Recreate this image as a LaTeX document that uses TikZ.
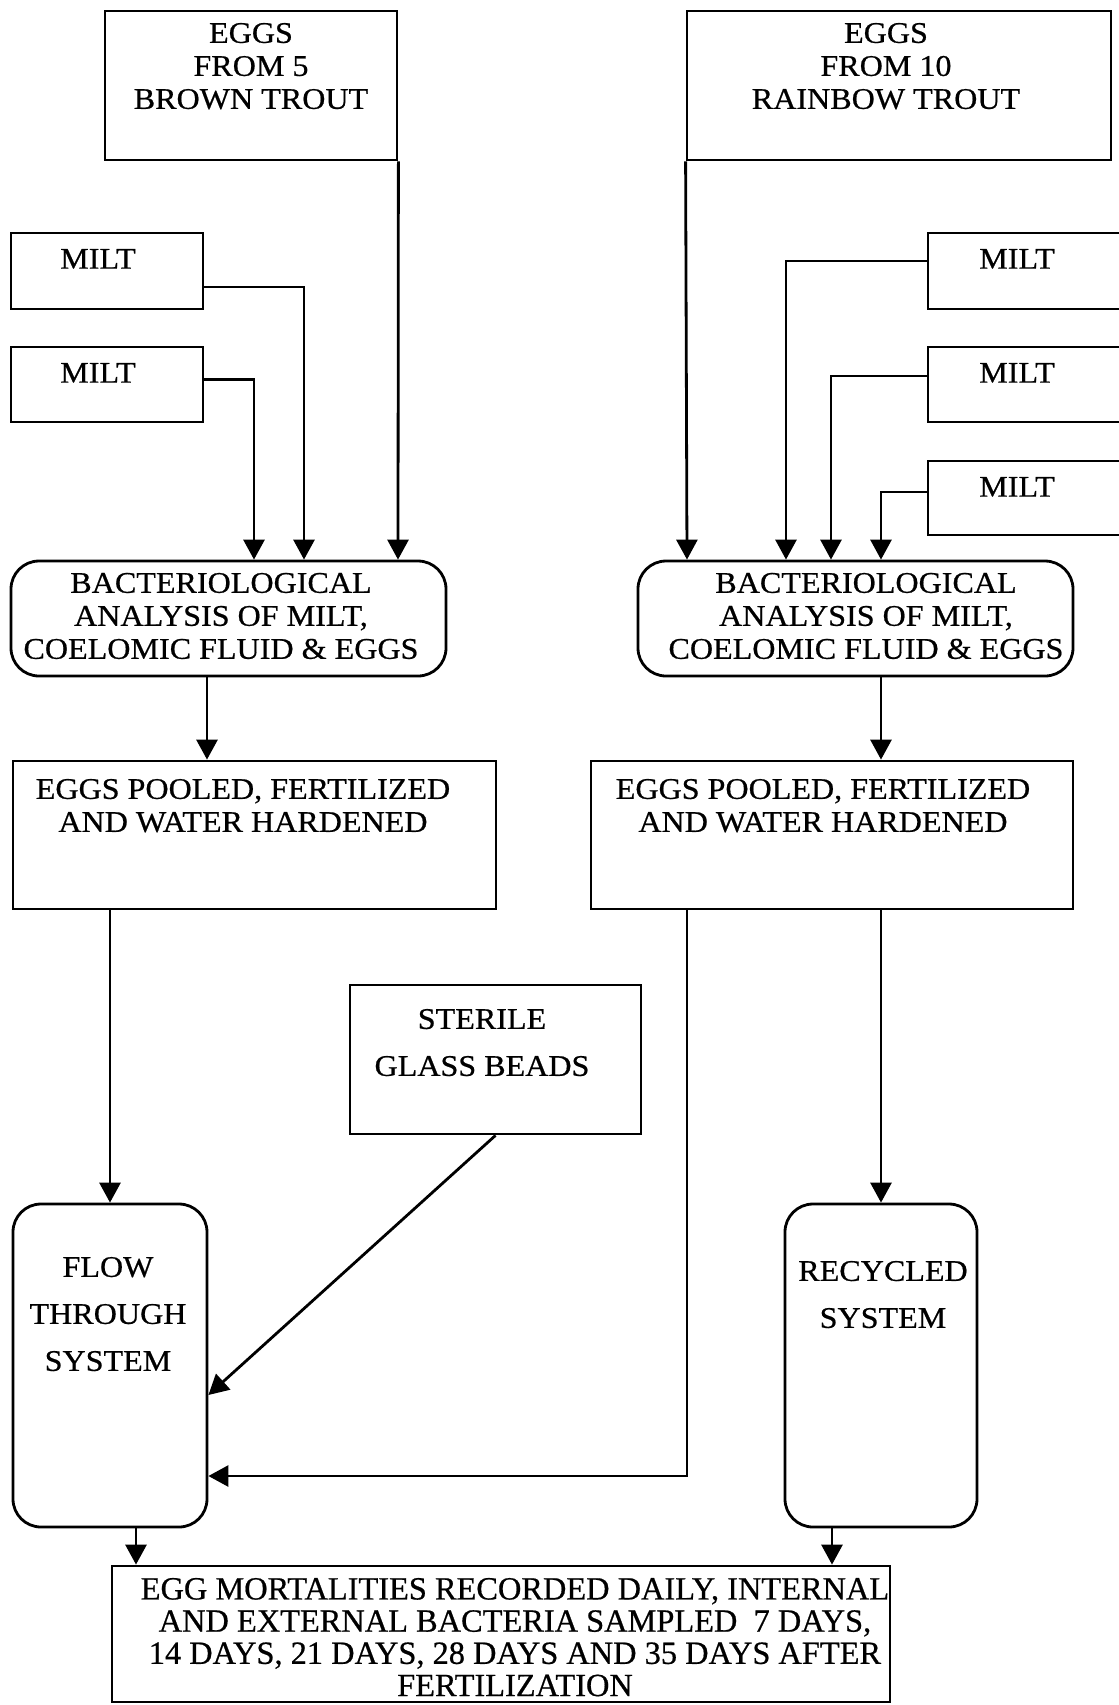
\documentclass[tikz,border=0pt]{standalone}
\usepackage{fontspec}
\setmainfont{Liberation Serif}[FakeStretch=1.07, FakeBold=0.6]
\newfontfamily\narrowfont{Liberation Serif}[FakeBold=0.6]
\usetikzlibrary{arrows.meta, positioning, calc}

\begin{document}
\begin{tikzpicture}[x=0.5pt, y=-0.5pt,
      >=Triangle, line width=1.4pt,
      box/.style={draw, inner sep=0pt},
      rbox/.style={box, rounded corners=14pt},
      txt/.style={align=center, inner sep=0pt, font=\fontsize{15}{16.5}\selectfont},
      wtxt/.style={txt, font=\fontsize{15}{23.5}\selectfont},
      ntxt/.style={txt, font=\narrowfont\fontsize{16.2}{16.1}\selectfont},
      arr/.style={-{Triangle[length=10pt, width=10.5pt]}}]
    \useasboundingbox (0,0) rectangle (1119,1705);
    % sources
    \node[box, minimum width=146pt, minimum height=74.5pt] (brown) at (251,85.5) {};
    \node[box, minimum width=212pt, minimum height=74.5pt] (rainbow) at (899,85.5) {};
    \node[box, minimum width=96pt, minimum height=38pt] (miltA) at (107,271) {};
    \node[box, minimum width=96pt, minimum height=37.5pt] (miltB) at (107,384.5) {};
    \node[box, minimum width=100pt, minimum height=38pt] (miltC) at (1028,271) {};
    \node[box, minimum width=100pt, minimum height=37.5pt] (miltD) at (1028,384.5) {};
    \node[box, minimum width=100pt, minimum height=37pt] (miltE) at (1028,498) {};
    % analysis
    \node[rbox, minimum width=217.5pt, minimum height=57.5pt] (bactL) at (228.5,618.5) {};
    \node[rbox, minimum width=217.5pt, minimum height=57.5pt] (bactR) at (855.5,618.5) {};
    % pooling
    \node[box, minimum width=241.5pt, minimum height=74pt] (poolL) at (254.5,835) {};
    \node[box, minimum width=241pt, minimum height=74pt] (poolR) at (832,835) {};
    \node[box, minimum width=145.5pt, minimum height=74.5pt] (beads) at (495.5,1059.5) {};
    % systems
    \node[rbox, minimum width=97pt, minimum height=161.5pt] (flow) at (110,1365.5) {};
    \node[rbox, minimum width=96pt, minimum height=161.5pt] (recyc) at (881,1365.5) {};
    \node[box, minimum width=389pt, minimum height=68pt] (final) at (501,1634) {};

    % texts
    \node[txt, anchor=north] (brownT) at ($(brown.north)+(0,12)$) {EGGS\\FROM 5\\BROWN TROUT};
    \node[txt, anchor=north] (rainT) at ($(rainbow.north)+(-13,12)$) {EGGS\\FROM 10\\RAINBOW TROUT};
    \foreach \m in {A,B}
      \node[txt, anchor=north] (milt\m T) at ($(milt\m.north)+(-9,16)$) {MILT};
    \foreach \m in {C,D,E}
      \node[txt, anchor=north] (milt\m T) at ($(milt\m.north)+(-11,16)$) {MILT};
    \node[txt] (bactLT) at ($(bactL.center)+(-7.5,-2.5)$) {BACTERIOLOGICAL\\ANALYSIS OF MILT,\\COELOMIC FLUID \& EGGS};
    \node[txt] (bactRT) at ($(bactR.center)+(10.5,-2.5)$) {BACTERIOLOGICAL\\ANALYSIS OF MILT,\\COELOMIC FLUID \& EGGS};
    \node[txt, anchor=north] (poolLT) at ($(poolL.north)+(-11.5,18)$) {EGGS POOLED, FERTILIZED\\AND WATER HARDENED};
    \node[txt, anchor=north] (poolRT) at ($(poolR.north)+(-9,18)$) {EGGS POOLED, FERTILIZED\\AND WATER HARDENED};
    \node[wtxt, anchor=north] (beadsT) at ($(beads.north)+(-13.5,24)$) {STERILE\\GLASS BEADS};
    \node[wtxt, anchor=north] (flowT) at ($(flow.north)+(-2,53)$) {FLOW\\THROUGH\\SYSTEM};
    \node[wtxt, anchor=north] (recycT) at ($(recyc.north)+(2,57)$) {RECYCLED\\SYSTEM};
    \node[ntxt, anchor=north] (finalT) at ($(final.north)+(14,12)$) {EGG MORTALITIES RECORDED DAILY, INTERNAL\\AND EXTERNAL BACTERIA SAMPLED\ \ 7 DAYS,\\14 DAYS, 21 DAYS, 28 DAYS AND 35 DAYS AFTER\\FERTILIZATION};

    % inputs to the analyses
    \draw[arr] (brown.south east) -- ($(bactL.north)+(169.5,0)$);
    \draw[arr] ($(miltA.east)+(0,16)$) -| ($(bactL.north)+(75.5,0)$);
    \draw[arr] ($(miltB.east)+(0,-5)$) -| ($(bactL.north)+(25.5,0)$);
    \draw[arr] (rainbow.south west) -- ($(bactR.north)+(-168.5,0)$);
    \draw[arr] ($(miltC.west)+(0,-10)$) -| ($(bactR.north)+(-69.5,0)$);
    \draw[arr] ($(miltD.west)+(0,-8.5)$) -| ($(bactR.north)+(-24.5,0)$);
    \draw[arr] ($(miltE.west)+(0,-6)$) -| ($(bactR.north)+(25.5,0)$);
    % analyses to pooling
    \draw[arr] ($(bactL.south)+(-21.5,0)$) -- ($(poolL.north)+(-47.5,0)$);
    \draw[arr] ($(bactR.south)+(25.5,0)$) -- ($(poolR.north)+(49,0)$);
    % pooling to systems
    \draw[arr] (flow.north |- poolL.south) -- (flow.north);
    \draw[arr] (recyc.north |- poolR.south) -- (recyc.north);
    \draw[arr] ($(poolR.south)+(-145,0)$) |- ($(flow.east)+(0,110.5)$);
    \draw[arr] (beads.south) -- ($(flow.east)+(0,29.5)$);
    % systems to sampling
    \draw[arr] ($(flow.south)+(26,0)$) -- ($(final.north)+(-365,0)$);
    \draw[arr] ($(recyc.south)+(-49,0)$) -- ($(final.north)+(331,0)$);
  \end{tikzpicture}
\end{document}
